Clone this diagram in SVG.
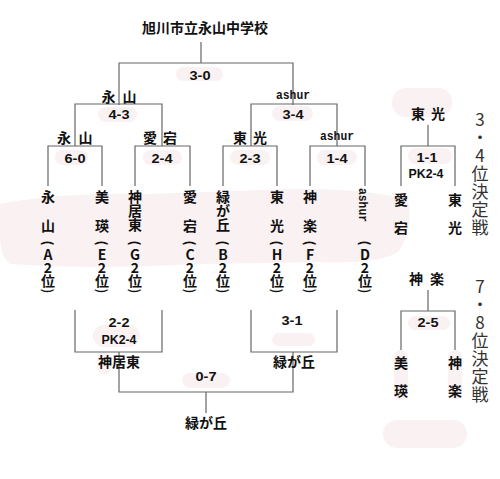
<svg xmlns="http://www.w3.org/2000/svg" width="500" height="479" viewBox="0 0 500 479">
<style>
.bg{fill:#faf2f2}
.ln{fill:none;stroke:#666;stroke-width:1.2}
.t{font-family:"Noto Sans CJK JP","Noto Sans",sans-serif;font-weight:bold;font-size:14px;text-anchor:middle;fill:#111}
.p{font-family:"Noto Sans CJK JP","Noto Sans",sans-serif;font-weight:bold;font-size:13px;text-anchor:middle;dominant-baseline:central;fill:#111}
.s{font-family:"Liberation Sans",Arial,sans-serif;font-weight:bold;font-size:13px;text-anchor:middle;fill:#111}
.m{font-family:"Liberation Mono",monospace;font-weight:bold;font-size:12px;text-anchor:middle;fill:#111}
.v{font-family:"Noto Sans CJK JP","Noto Sans",sans-serif;font-size:17px;text-anchor:middle;fill:#333}
</style>
<rect width="500" height="479" fill="#fff"/>
<g id="background">
<path class="bg" d="M0,204 Q60,192 150,194 L260,190 Q360,186 408,200 Q414,230 398,252 Q380,264 320,262 L200,264 Q90,270 10,264 Q0,256 0,236 Z"/>
<rect class="bg" x="176" y="67" width="47" height="14" rx="7"/>
<rect class="bg" x="98" y="107" width="39" height="15" rx="7.5"/>
<rect class="bg" x="272" y="106" width="41" height="15" rx="7.5"/>
<rect class="bg" x="55" y="150" width="33" height="15" rx="7.5"/>
<rect class="bg" x="143" y="150" width="39" height="15" rx="7.5"/>
<rect class="bg" x="230" y="150" width="40" height="15" rx="7.5"/>
<rect class="bg" x="317" y="150" width="40" height="15" rx="7.5"/>
<rect class="bg" x="408" y="148" width="44" height="16" rx="8"/>
<rect class="bg" x="392" y="88" width="60" height="29" rx="14"/>
<rect class="bg" x="93" y="325" width="47" height="22" rx="11"/>
<rect class="bg" x="97" y="352" width="14" height="22" rx="7"/>
<rect class="bg" x="272" y="333" width="43" height="13" rx="6.5"/>
<rect class="bg" x="182" y="373" width="48" height="15" rx="7.5"/>
<rect class="bg" x="408" y="316" width="42" height="14" rx="7"/>
<rect class="bg" x="394" y="350" width="14" height="50" rx="7"/>
<rect class="bg" x="448" y="350" width="14" height="50" rx="7"/>
<rect class="bg" x="383" y="420" width="84" height="28" rx="14"/>
</g>
<g id="connectors">
<path class="ln" d="M201,42V63M119,105V63H293V105"/>
<path class="ln" d="M75,146V104H162V146M48,186V146H102V186M135,186V146H190V186"/>
<path class="ln" d="M251,146V104H337V146M223,186V146H277V186M310,186V146H365V186"/>
<path class="ln" d="M428,125V146M401,186V146H455V186"/>
<path class="ln" d="M428,290V311M401,350V311H455V350"/>
<path class="ln" d="M75,310V352H162V310M251,310V352H337V310M119,352V392H293V352M206,392V413"/>
</g>
<g id="title"><text class="t" x="205" y="33">旭川市立永山中学校</text></g>
<g id="scores">
<text class="s" x="200" y="80" textLength="21" lengthAdjust="spacingAndGlyphs">3-0</text>
<text class="s" x="119" y="119" textLength="21" lengthAdjust="spacingAndGlyphs">4-3</text>
<text class="s" x="293" y="119" textLength="21" lengthAdjust="spacingAndGlyphs">3-4</text>
<text class="s" x="75" y="163" textLength="21" lengthAdjust="spacingAndGlyphs">6-0</text>
<text class="s" x="162" y="163" textLength="21" lengthAdjust="spacingAndGlyphs">2-4</text>
<text class="s" x="250" y="163" textLength="21" lengthAdjust="spacingAndGlyphs">2-3</text>
<text class="s" x="337" y="163" textLength="21" lengthAdjust="spacingAndGlyphs">1-4</text>
<text class="s" x="427" y="162" textLength="21" lengthAdjust="spacingAndGlyphs">1-1</text>
<text class="s" x="426" y="178" textLength="35" lengthAdjust="spacingAndGlyphs">PK2-4</text>
<text class="s" x="119" y="327" textLength="21" lengthAdjust="spacingAndGlyphs">2-2</text>
<text class="s" x="119" y="344" textLength="35" lengthAdjust="spacingAndGlyphs">PK2-4</text>
<text class="s" x="292" y="325" textLength="21" lengthAdjust="spacingAndGlyphs">3-1</text>
<text class="s" x="206" y="381" textLength="21" lengthAdjust="spacingAndGlyphs">0-7</text>
<text class="s" x="428" y="327" textLength="21" lengthAdjust="spacingAndGlyphs">2-5</text>
</g>
<g id="winners">
<text class="t" x="108.5 129.5" y="102">永山</text>
<text class="m" x="293" y="99" textLength="34" lengthAdjust="spacingAndGlyphs">ashur</text>
<text class="t" x="64 85.5" y="143">永山</text>
<text class="t" x="150 170" y="143">愛宕</text>
<text class="t" x="240 260" y="143">東光</text>
<text class="m" x="337" y="140" textLength="34" lengthAdjust="spacingAndGlyphs">ashur</text>
<text class="t" x="418 438" y="118.5">東光</text>
<text class="t" x="416 437" y="284">神楽</text>
<text class="t" x="119" y="367">神居東</text>
<text class="t" x="294" y="367">緑が丘</text>
<text class="t" x="206" y="428">緑が丘</text>
</g>
<g id="teams">
<g id="team-A">
<text class="t" x="48 48 48 48 48" y="202 231 260 273 286">永山A2位</text>
<text class="p" transform="translate(48,243) rotate(90)">(</text>
<text class="p" transform="translate(48,291) rotate(90)">)</text>
</g>
<g id="team-E">
<text class="t" x="102 102 102 102 102" y="202 231 260 273 286">美瑛E2位</text>
<text class="p" transform="translate(102,243) rotate(90)">(</text>
<text class="p" transform="translate(102,291) rotate(90)">)</text>
</g>
<g id="team-G">
<text class="t" x="135 135 135 135 135 135" y="202 216 230 260 273 286">神居東G2位</text>
<text class="p" transform="translate(135,243) rotate(90)">(</text>
<text class="p" transform="translate(135,291) rotate(90)">)</text>
</g>
<g id="team-C">
<text class="t" x="190 190 190 190 190" y="202 231 260 273 286">愛宕C2位</text>
<text class="p" transform="translate(190,243) rotate(90)">(</text>
<text class="p" transform="translate(190,291) rotate(90)">)</text>
</g>
<g id="team-B">
<text class="t" x="223 223 223 223 223 223" y="202 216 230 260 273 286">緑が丘B2位</text>
<text class="p" transform="translate(223,243) rotate(90)">(</text>
<text class="p" transform="translate(223,291) rotate(90)">)</text>
</g>
<g id="team-H">
<text class="t" x="277 277 277 277 277" y="202 231 260 273 286">東光H2位</text>
<text class="p" transform="translate(277,243) rotate(90)">(</text>
<text class="p" transform="translate(277,291) rotate(90)">)</text>
</g>
<g id="team-F">
<text class="t" x="310 310 310 310 310" y="202 231 260 273 286">神楽F2位</text>
<text class="p" transform="translate(310,243) rotate(90)">(</text>
<text class="p" transform="translate(310,291) rotate(90)">)</text>
</g>
<g id="team-D">
<text class="m" transform="translate(359,205) rotate(90)" textLength="34" lengthAdjust="spacingAndGlyphs">ashur</text>
<text class="t" x="365 365 365" y="260 273 286">D2位</text>
<text class="p" transform="translate(365,243) rotate(90)">(</text>
<text class="p" transform="translate(365,291) rotate(90)">)</text>
</g>
<g id="third-place">
<text class="t" x="401 401" y="205 233">愛宕</text>
<text class="t" x="455 455" y="205 233">東光</text>
</g>
<g id="seventh-place">
<text class="t" x="401 401" y="368 396">美瑛</text>
<text class="t" x="455 455" y="368 396">神楽</text>
</g>
</g>
<g id="side-labels">
<text class="v" x="480 480 480 480 480 480 480" y="126 144 162 180 198 216 234">3・4位決定戦</text>
<text class="v" x="480 480 480 480 480 480 480" y="293 311 329 347 365 383 401">7・8位決定戦</text>
</g>
</svg>
